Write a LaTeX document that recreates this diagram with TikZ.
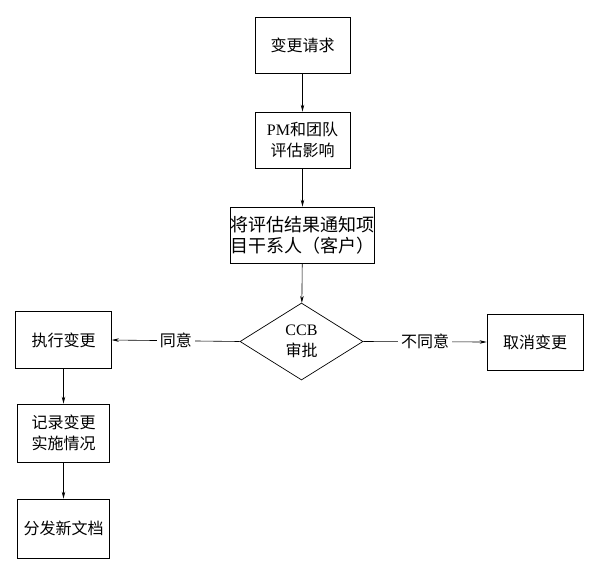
\documentclass[tikz,border=0pt]{standalone}
\usepackage{fontspec}
\setmainfont{Liberation Serif}
\newfontfamily\cjk{Noto Sans CJK SC}
\usetikzlibrary{shapes.geometric,arrows.meta}
\tikzset{
  box/.style={draw, line width=0.7pt, rectangle, inner sep=0pt, align=center,
    font=\fontsize{16}{21}\selectfont},
  decision/.style={draw, line width=0.7pt, diamond, aspect=1.6, inner sep=0pt,
    minimum width=123pt, minimum height=77pt, align=center,
    font=\fontsize{16}{21}\selectfont},
  conn/.style={draw, line width=0.6pt, -{Stealth[length=7pt,width=3.5pt]}},
  lbl/.style={fill=white, inner sep=3pt, font=\fontsize{16}{21}\selectfont}
}
\begin{document}
\begin{tikzpicture}[x=1pt,y=-1pt]
\useasboundingbox (0,0) rectangle (594,563);
\node[box, minimum width=95pt, minimum height=56pt] (req) at (302.5,45) {\cjk 变更请求};
\node[box, minimum width=95pt, minimum height=56pt] (pm) at (302.5,140) {PM{\cjk 和团队}\\{\cjk 评估影响}};
\node[box, minimum width=137pt, minimum height=56pt, font=\fontsize{18}{21}\selectfont] (notify) at (302.5,235) {\cjk 将评估结果通知项\\\cjk 目干系人（客户）};
\node[decision] (ccb) at (301.5,341.5) {CCB\\{\cjk 审批}};
\node[box, minimum width=96pt, minimum height=57pt] (exec) at (63.5,340) {\cjk 执行变更};
\node[box, minimum width=96pt, minimum height=56pt] (cancel) at (535,342) {\cjk 取消变更};
\node[box, minimum width=92pt, minimum height=58pt] (record) at (63.5,433) {\cjk 记录变更\\\cjk 实施情况};
\node[box, minimum width=92pt, minimum height=59pt] (dist) at (63.5,528.5) {\cjk 分发新文档};
\draw[conn] (req) -- (pm);
\draw[conn] (pm) -- (notify);
\draw[conn] (notify) -- (ccb);
\draw[conn] (ccb.west) -- node[lbl] (agree) {\cjk 同意} (exec.east);
\draw[conn] (ccb.east) -- node[lbl] (disagree) {\cjk 不同意} (cancel.west);
\draw[conn] (exec) -- (record);
\draw[conn] (record) -- (dist);
\end{tikzpicture}
\end{document}
